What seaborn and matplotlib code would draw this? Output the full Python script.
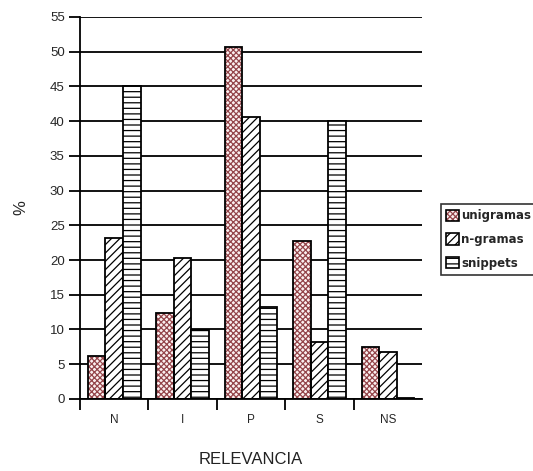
import matplotlib
matplotlib.use("Agg")
import matplotlib.pyplot as plt
import seaborn as sns
import pandas as pd
from matplotlib.patches import Patch, Rectangle
from matplotlib.legend_handler import HandlerTuple

categories = ["N", "I", "P", "S", "NS"]
series_names = ["unigramas", "n-gramas", "snippets"]
unigramas = [6.2, 12.4, 50.7, 22.8, 7.5]
n_gramas = [23.2, 20.3, 40.6, 8.2, 6.8]
snippets = [45.0, 9.9, 13.3, 40.0, 0.2]
y_ticks = list(range(0, 56, 5))

df = pd.DataFrame({
    "RELEVANCIA": categories * 3,
    "serie": [s for s in series_names for _ in categories],
    "pct": unigramas + n_gramas + snippets,
})

sns.set_style("white")
plt.rcParams["hatch.linewidth"] = 0.9
plt.rcParams["font.family"] = ["DejaVu Sans"]

fig = plt.figure(figsize=(5.33, 4.71), dpi=100)
ax = fig.add_axes([0.150, 0.153, 0.642, 0.811])

sns.barplot(data=df, x="RELEVANCIA", y="pct", hue="serie", order=categories,
            hue_order=series_names, width=0.77, ax=ax, legend=False,
            edgecolor="black", linewidth=1.3, saturation=1)

EDGE_LW = 1.3
# hatch colour follows the edge colour, so bars with coloured hatching get a
# separate black outline drawn on top
styles = [
    dict(facecolor="#fbf0f0", hatch="xxxxxx", hatchcolor="#94454a"),
    dict(facecolor="white", hatch="////", hatchcolor="black"),
    dict(facecolor="white", hatch="---", hatchcolor="black"),
]
for cont, st in zip(ax.containers, styles):
    for bar in cont:
        bar.set_facecolor(st["facecolor"])
        bar.set_hatch(st["hatch"])
        bar.set_edgecolor(st["hatchcolor"])
        if st["hatchcolor"] != "black":
            bar.set_linewidth(0)
            ax.add_patch(Rectangle((bar.get_x(), bar.get_y()), bar.get_width(),
                                   bar.get_height(), fill=False,
                                   edgecolor="black", linewidth=EDGE_LW,
                                   zorder=bar.get_zorder() + 0.1))
        else:
            bar.set_linewidth(EDGE_LW)

ax.set_ylim(0, 55)
ax.set_xlim(-0.5, len(categories) - 0.5)
ax.set_yticks(y_ticks)
ax.set_yticklabels([str(t) for t in y_ticks], fontsize=9.5, family="Liberation Sans")
ax.yaxis.grid(True, color="black", linewidth=1.3)
ax.set_axisbelow(True)

# category labels sit between boundary tick marks
ax.set_xticks([i - 0.5 for i in range(len(categories))])
ax.set_xticklabels([])
ax.set_xticks(range(len(categories)), minor=True)
ax.set_xticklabels(categories, minor=True, fontsize=8.5, family="Liberation Sans")
ax.tick_params(axis="x", which="minor", bottom=False, length=0, pad=11)
ax.tick_params(axis="x", which="major", bottom=True, direction="out", length=8,
               width=1.3, color="black")
ax.tick_params(axis="y", left=True, direction="out", length=8, width=1.3,
               color="black", pad=3)

for side in ["top", "right"]:
    ax.spines[side].set_visible(False)
for side in ["left", "bottom"]:
    ax.spines[side].set_color("black")
    ax.spines[side].set_linewidth(1.3)

ax.set_xlabel("RELEVANCIA", fontsize=12, family="Liberation Sans", color="#222222")
ax.xaxis.set_label_coords(0.5, -0.14)
ax.set_ylabel("%", fontsize=12, family="Liberation Sans")
ax.yaxis.set_label_coords(-0.15, 0.5)

handles = []
for st in styles:
    fill = Patch(facecolor=st["facecolor"], hatch=st["hatch"], edgecolor=st["hatchcolor"],
                 linewidth=0)
    outline = Patch(fill=False, edgecolor="black", linewidth=1.2)
    handles.append((fill, outline))
leg = fig.legend(handles, series_names, loc="upper left",
                 bbox_to_anchor=(441 / 533, 1 - 204 / 471),
                 prop=dict(size=8.5, weight="bold", family="DejaVu Sans"),
                 frameon=True, fancybox=False, edgecolor="black",
                 handlelength=1.1, handleheight=1.1, handletextpad=0.15,
                 borderpad=0.45, labelspacing=0.9, borderaxespad=0,
                 handler_map={tuple: HandlerTuple(ndivide=1, pad=0)})
leg.get_frame().set_linewidth(1.2)

fig.savefig("out.png", dpi=100)
